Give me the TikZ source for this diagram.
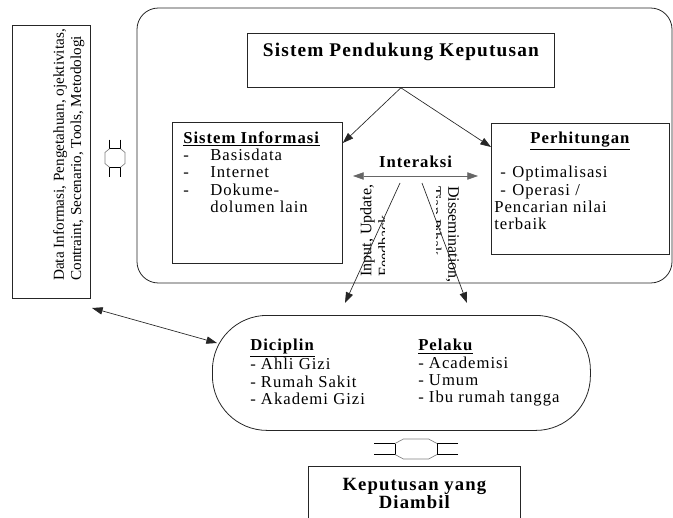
\documentclass[tikz,border=0pt]{standalone}
\usepackage{fontspec}
\setmainfont{Liberation Serif}
\newfontfamily\wordfont{Liberation Serif}[LetterSpace=6]
\usetikzlibrary{arrows.meta,positioning}
\tikzset{
  box/.style={draw=black!85, line width=0.6pt, inner sep=0pt, anchor=north west},
  boxtext/.style={font=\wordfont\fontsize{12.5}{13}\selectfont, align=left, inner sep=0pt},
  headtext/.style={font=\wordfont\bfseries\fontsize{14.5}{18}\selectfont, align=center, inner sep=0pt},
  sidetext/.style={font=\fontsize{12}{13.5}\selectfont, align=left, inner sep=0pt},
  arr/.style={-{Triangle[length=8pt,width=5.5pt]}, line width=0.5pt, black!85},
  dblarr/.style={{Triangle[length=8pt,width=5.5pt]}-{Triangle[length=8pt,width=5.5pt]}, line width=0.5pt, black!85},
  linkarrow/.pic={
    \pgfmathsetmacro\linkmid{#1/2}
    \pgfmathsetmacro\linkcut{#1/5}
    \draw[black, line width=1.1pt] (-#1,-5.5) -- (-\linkmid,-5.5) (-#1,5.5) -- (-\linkmid,5.5)
      (#1,-5.5) -- (\linkmid,-5.5) (#1,5.5) -- (\linkmid,5.5);
    \draw[black, line width=0.5pt] (-\linkmid,-5.5) -- (-\linkmid,5.5) (\linkmid,-5.5) -- (\linkmid,5.5);
    \draw[gray, line width=0.5pt] (-\linkmid,-5.5) -- ({-\linkmid+\linkcut},-10) -- ({\linkmid-\linkcut},-10) -- (\linkmid,-5.5)
      (-\linkmid,5.5) -- ({-\linkmid+\linkcut},10) -- ({\linkmid-\linkcut},10) -- (\linkmid,5.5);
  }
}
\newcommand*\listdash[2][20.25pt]{\makebox[#1][l]{-}#2}

\begin{document}
\begin{tikzpicture}[x=0.75pt, y=-0.75pt]
\useasboundingbox (0,0) rectangle (673,517);
\node[box, anchor=center, rotate=90, minimum width=204.75pt, minimum height=58.5pt] (data) at (51,161.5) {};
\node[sidetext, font=\fontsize{11.4}{12.8}\selectfont, rotate=90, anchor=north west] (datatext) at (53,281) {Data Informasi, Pengetahuan, ojektivitas,\\Contraint, Secenario, Tools, Metodologi};
\pic[rotate=90] at (115,158) {linkarrow=18.5};
\draw[black!85, line width=0.6pt, rounded corners=16pt] (137,8) rectangle (672,283);
\node[box, minimum width=230.25pt, minimum height=40.5pt] (title) at (247,33) {};
\node[headtext, below=7pt of title.north] (titletext) {Sistem Pendukung Keputusan};
\node[box, minimum width=127.5pt, minimum height=105.75pt] (info) at (172,122) {};
\node[boxtext, below right=6.75pt and 8.25pt of info.north west] (infotext) {\underline{\textbf{Sistem Informasi}}\\
  \listdash{Basisdata}\\
  \listdash{Internet}\\
  \listdash{Dokume-}\\
  \hspace*{20.25pt}dolumen lain};
\node[box, minimum width=133.5pt, minimum height=98.25pt] (hitung) at (491,123) {};
\node[boxtext, below=6.75pt of hitung.north] (hitungtitle) {\underline{\textbf{Perhitungan}}};
\node[boxtext, below right=32.25pt and 6.75pt of hitung.north west] (hitungitems) {\listdash[9pt]{Optimalisasi}\\
  \listdash[9pt]{Operasi /}\\
  \hspace*{-4.5pt}Pencarian nilai\\
  \hspace*{-4.5pt}terbaik};
\node[boxtext] (inter) at (416,162) {\textbf{Interaksi}};
\coordinate (intl) at (353,176);
\coordinate (intr) at (478,176);
\begin{scope}
  \clip (352,176) rectangle (384,286);
  \node[sidetext, rotate=90, anchor=west] (inlabel) at (375,277) {Input, Update,\\Feedback};
\end{scope}
\begin{scope}
  \clip (436,180) rectangle (463,286);
  \node[sidetext, rotate=-90, anchor=west] (outlabel) at (443,186) {Dissemination,\\Tiap Pihak};
\end{scope}
\coordinate (ina) at (400,183);
\coordinate (inb) at (345,303);
\coordinate (outa) at (422,183);
\coordinate (outb) at (467,303);
\node[box, rounded corners=41pt, minimum width=283.5pt, minimum height=86.25pt] (aktor) at (212,315) {};
\node[boxtext, below right=18pt and 28.5pt of aktor.north west] (diciplin) {\underline{\textbf{Diciplin}}\\- Ahli Gizi\\- Rumah Sakit\\- Akademi Gizi};
\node[boxtext, below right=18pt and 154.5pt of aktor.north west] (pelaku) {\underline{\textbf{Pelaku}}\\- Academisi\\- Umum\\- Ibu rumah tangga};
\pic at (416,449) {linkarrow=42};
\node[box, minimum width=159pt, minimum height=52.5pt] (hasil) at (308,466) {};
\node[headtext, font=\wordfont\bfseries\fontsize{14}{13.5}\selectfont, below=9pt of hasil.north] (hasiltext) {Keputusan yang\\Diambil};
\coordinate (sidea) at (92,308);
\coordinate (sideb) at (217,343);
\draw[arr] (title.south) -- ([yshift=-15.75pt]info.north east);
\draw[arr] (title.south) -- ([yshift=-18pt]hitung.north west);
\draw[dblarr, black!60] (intl) -- (intr);
\draw[arr] (ina) -- (inb);
\draw[arr] (outa) -- (outb);
\draw[dblarr] (sidea) -- (sideb);
\end{tikzpicture}
\end{document}
